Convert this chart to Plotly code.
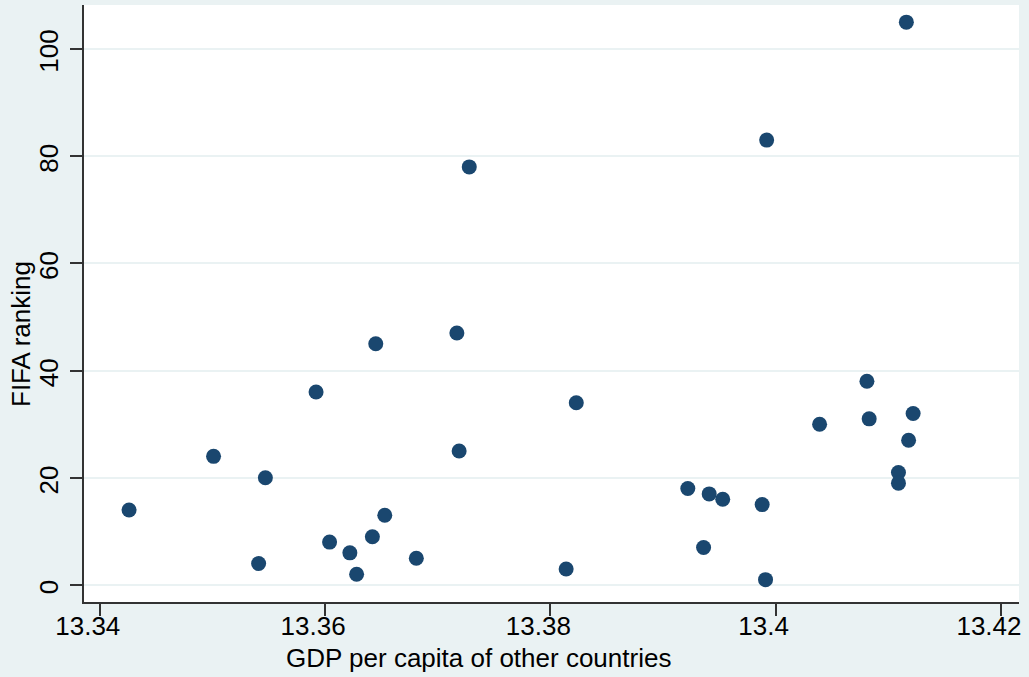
import plotly.graph_objects as go

gdp = [13.3426, 13.3501, 13.3541, 13.3547, 13.3592, 13.3604, 13.3622, 13.3628,
       13.3642, 13.3645, 13.3653, 13.3681, 13.3717, 13.3719, 13.3728, 13.3814,
       13.3823, 13.3922, 13.3936, 13.3941, 13.3953, 13.3988, 13.3991, 13.3992,
       13.4039, 13.4081, 13.4083, 13.4109, 13.4109, 13.4116, 13.4118, 13.4122]
fifa = [14, 24, 4, 20, 36, 8, 6, 2, 9, 45, 13, 5, 47, 25, 78, 3, 34, 18, 7, 17,
        16, 15, 1, 83, 30, 38, 31, 21, 19, 105, 27, 32]

x_ticks = [13.34, 13.36, 13.38, 13.4, 13.42]
x_tick_labels = ["13.34", "13.36", "13.38", "13.4", "13.42"]
y_ticks = [0, 20, 40, 60, 80, 100]
y_tick_labels = ["0", "20", "40", "60", "80", "100"]

bg = "#eaf2f3"
font = "Liberation Sans, Arial, sans-serif"

fig = go.Figure()
fig.add_trace(go.Scatter(
    x=gdp, y=fifa, mode="markers",
    marker=dict(size=15, color="#1a476f", line=dict(width=0)),
    showlegend=False,
))

fig.update_layout(
    width=1029, height=677,
    margin=dict(l=84, r=10, t=5, b=75),
    paper_bgcolor=bg, plot_bgcolor="white",
    font=dict(family=font, size=26, color="#000000"),
    xaxis=dict(
        range=[13.3386, 13.4216], tickvals=x_ticks, ticktext=x_tick_labels,
        showgrid=False, zeroline=False,
        showline=True, linecolor="#333333", linewidth=1.5,
        ticks="outside", ticklen=12, tickwidth=1.5, tickcolor="#333333",
        tickfont=dict(size=26), ticklabelshift=-12, ticklabelstandoff=-12,
        ticklabeloverflow="allow",
    ),
    yaxis=dict(
        range=[-3.17, 108.2], tickvals=y_ticks, ticktext=y_tick_labels,
        showgrid=True, gridcolor=bg, gridwidth=1.5, zeroline=False,
        showline=True, linecolor="#333333", linewidth=1.5,
        ticks="outside", ticklen=12, tickwidth=1.5, tickcolor="#333333",
        tickangle=-90, tickfont=dict(size=26), ticklabelstandoff=2,
        ticklabelshift=6, ticklabeloverflow="allow",
    ),
    annotations=[
        dict(text="GDP per capita of other countries", xref="paper", yref="paper",
             x=(478 - 84) / 935, y=-(658 - 602) / 597, xanchor="center", yanchor="middle",
             showarrow=False, font=dict(size=26)),
        dict(text="FIFA ranking", xref="paper", yref="paper",
             x=-(84 - 21) / 935, y=(602 - 334) / 597, xanchor="center", yanchor="middle",
             textangle=-90, showarrow=False, font=dict(size=26)),
    ],
)

fig.write_html("out.html", post_script="document.body.style.margin='0';",
               config={"displayModeBar": False})
